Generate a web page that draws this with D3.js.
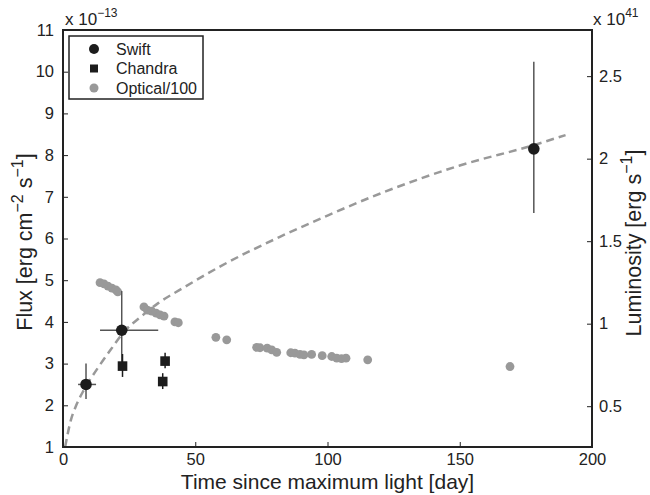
<!DOCTYPE html>
<html>
<head>
<meta charset="utf-8">
<script src="https://cdn.jsdelivr.net/npm/d3@7"></script>
<style>
  body { margin: 0; background: #fff; }
  svg text { font-family: "Liberation Sans", Arial, Helvetica, sans-serif; fill: #222; }
</style>
</head>
<body>
<div id="chart"></div>
<script>
// swift points (day, flux in 1e-13) with error bars
var swiftDay = [8.7, 22.2, 178];
var swiftFlux = [2.5, 3.8, 8.15];
var swiftDayLo = [5.7, 14, 178];
var swiftDayHi = [12.5, 36, 178];
var swiftFluxLo = [2.15, 2.86, 6.61];
var swiftFluxHi = [3.0, 4.74, 10.24];

// chandra points
var chandraDay = [22.5, 37.7, 38.6];
var chandraFlux = [2.94, 2.57, 3.06];
var chandraFluxLo = [2.68, 2.39, 2.89];
var chandraFluxHi = [3.23, 2.77, 3.26];

// optical / 100
var optDay = [14, 15.5, 17, 18.5, 20, 20.7, 30.6, 31.9, 33.5, 35.2, 36.7, 38.2, 42.3, 43.6,
  57.8, 61.9, 73.2, 74.5, 77.2, 78.9, 80.8, 86.1, 87.7, 89.6, 91.1, 94, 98, 101.6, 103.5,
  105.3, 107, 115.2, 169];
var optFlux = [4.94, 4.91, 4.86, 4.81, 4.77, 4.72, 4.36, 4.28, 4.26, 4.21, 4.17, 4.14, 4.0, 3.98,
  3.63, 3.57, 3.39, 3.38, 3.37, 3.33, 3.27, 3.26, 3.25, 3.22, 3.21, 3.22, 3.19, 3.17, 3.13,
  3.12, 3.13, 3.09, 2.93];

// dashed model curve
var curveDay = [0.8, 3, 5, 8, 13, 18, 23, 29, 36, 45, 60, 82, 100, 120, 150, 178, 190];
var curveFlux = [1.0, 1.65, 2.0, 2.38, 2.88, 3.33, 3.76, 4.1, 4.45, 4.8, 5.35, 6.04, 6.55, 7.08, 7.75, 8.24, 8.48];

var xTicks = [0, 50, 100, 150, 200];
var yTicks = [1, 2, 3, 4, 5, 6, 7, 8, 9, 10, 11];
var lumTicks = [0.5, 1, 1.5, 2, 2.5];
var lumPerFlux = 0.2527; // 1e41 per 1e-13

var width = 650, height = 495;
var margin = {top: 30, right: 58, bottom: 48, left: 63};
var w = width - margin.left - margin.right,
    h = height - margin.top - margin.bottom;

var x = d3.scaleLinear().domain([0, 200]).range([0, w]);
var y = d3.scaleLinear().domain([1, 11]).range([h, 0]);
var yL = d3.scaleLinear().domain([1 * lumPerFlux, 11 * lumPerFlux]).range([h, 0]);

var svg = d3.select("#chart").append("svg")
    .attr("width", width)
    .attr("height", height);
var g = svg.append("g")
    .attr("transform", "translate(" + margin.left + "," + margin.top + ")");

var axisColor = "#222";
var black = "#1c1c1c";
var grey = "#999";

// dashed curve
var line = d3.line()
    .x(function(d){ return x(d[0]); })
    .y(function(d){ return y(d[1]); })
    .curve(d3.curveMonotoneX);
g.append("path")
    .datum(curveDay.map(function(d, i){ return [d, curveFlux[i]]; }))
    .attr("d", line)
    .style("fill", "none")
    .style("stroke", grey)
    .style("stroke-width", "2.5px")
    .style("stroke-dasharray", "8,5");

// optical points
g.selectAll(".opt")
    .data(optDay)
    .enter().append("circle")
    .attr("cx", function(d){ return x(d); })
    .attr("cy", function(d, i){ return y(optFlux[i]); })
    .attr("r", 4.4)
    .style("fill", grey);

// swift error bars
swiftDay.forEach(function(d, i){
  g.append("line")
    .attr("x1", x(d)).attr("x2", x(d))
    .attr("y1", y(swiftFluxLo[i])).attr("y2", y(swiftFluxHi[i]))
    .style("stroke", "#555").style("stroke-width", "1.5px");
  g.append("line")
    .attr("x1", x(swiftDayLo[i])).attr("x2", x(swiftDayHi[i]))
    .attr("y1", y(swiftFlux[i])).attr("y2", y(swiftFlux[i]))
    .style("stroke", "#555").style("stroke-width", "1.5px");
});

// chandra error bars
chandraDay.forEach(function(d, i){
  g.append("line")
    .attr("x1", x(d)).attr("x2", x(d))
    .attr("y1", y(chandraFluxLo[i])).attr("y2", y(chandraFluxHi[i]))
    .style("stroke", black).style("stroke-width", "1.5px");
});

// swift markers
g.selectAll(".swift")
    .data(swiftDay)
    .enter().append("circle")
    .attr("cx", function(d){ return x(d); })
    .attr("cy", function(d, i){ return y(swiftFlux[i]); })
    .attr("r", 5.8)
    .style("fill", black);

// chandra markers
g.selectAll(".chandra")
    .data(chandraDay)
    .enter().append("rect")
    .attr("x", function(d){ return x(d) - 4.8; })
    .attr("y", function(d, i){ return y(chandraFlux[i]) - 4.8; })
    .attr("width", 9.6)
    .attr("height", 9.6)
    .style("fill", black);

// axes
function styleAxis(sel){
  sel.select(".domain").remove();
  sel.selectAll("line").style("stroke", axisColor).style("stroke-width", "1px");
  sel.selectAll("text").style("font-size", "16.5px").style("fill", "#222");
}
g.append("g")
    .attr("transform", "translate(0," + h + ")")
    .call(d3.axisBottom(x).tickValues(xTicks).tickSize(-5).tickPadding(6))
    .call(styleAxis);
g.append("g")
    .call(d3.axisLeft(y).tickValues(yTicks).tickSize(-5).tickPadding(9))
    .call(styleAxis);
g.append("g")
    .attr("transform", "translate(" + w + ",0)")
    .call(d3.axisRight(yL).tickValues(lumTicks).tickFormat(d3.format("~g")).tickSize(-5).tickPadding(7))
    .call(styleAxis);

// frame
g.append("rect")
    .attr("width", w).attr("height", h)
    .style("fill", "none")
    .style("stroke", axisColor)
    .style("stroke-width", "2px");

// exponent labels
var e1 = svg.append("text").attr("x", 65).attr("y", 25).style("font-size", "17px");
e1.append("tspan").text("x 10");
e1.append("tspan").attr("dy", -8).style("font-size", "12px").text("\u221213");
var e2 = svg.append("text").attr("x", 593).attr("y", 25).style("font-size", "17px");
e2.append("tspan").text("x 10");
e2.append("tspan").attr("dy", -8).style("font-size", "12px").text("41");

// axis titles
svg.append("text")
    .attr("x", margin.left + w / 2)
    .attr("y", 489)
    .attr("text-anchor", "middle")
    .style("font-size", "21px")
    .text("Time since maximum light [day]");

var fl = svg.append("text")
    .attr("transform", "translate(32,242) rotate(-90)")
    .attr("text-anchor", "middle")
    .style("font-size", "21.5px");
fl.append("tspan").text("Flux [erg cm");
fl.append("tspan").attr("dy", -9).style("font-size", "16px").text("\u22122");
fl.append("tspan").attr("dy", 9).text(" s");
fl.append("tspan").attr("dy", -9).style("font-size", "16px").text("\u22121");
fl.append("tspan").attr("dy", 9).text("]");

var lu = svg.append("text")
    .attr("transform", "translate(641,243) rotate(-90)")
    .attr("text-anchor", "middle")
    .style("font-size", "21.5px");
lu.append("tspan").text("Luminosity [erg s");
lu.append("tspan").attr("dy", -9).style("font-size", "16px").text("\u22121");
lu.append("tspan").attr("dy", 9).text("]");

// legend
var leg = svg.append("g").attr("transform", "translate(69,36)");
leg.append("rect")
    .attr("width", 134).attr("height", 63)
    .style("fill", "#fff")
    .style("stroke", axisColor)
    .style("stroke-width", "1.5px");
var legNames = ["Swift", "Chandra", "Optical/100"];
legNames.forEach(function(n, i){
  var yy = 13 + i * 19.5;
  if (i === 1) {
    leg.append("rect").attr("x", 21).attr("y", yy - 4).attr("width", 8).attr("height", 8).style("fill", black);
  } else {
    leg.append("circle").attr("cx", 25).attr("cy", yy).attr("r", i === 0 ? 5 : 4.5)
      .style("fill", i === 0 ? black : grey);
  }
  leg.append("text").attr("x", 47).attr("y", yy + 5.5).style("font-size", "16px").text(n);
});
</script>
</body>
</html>
